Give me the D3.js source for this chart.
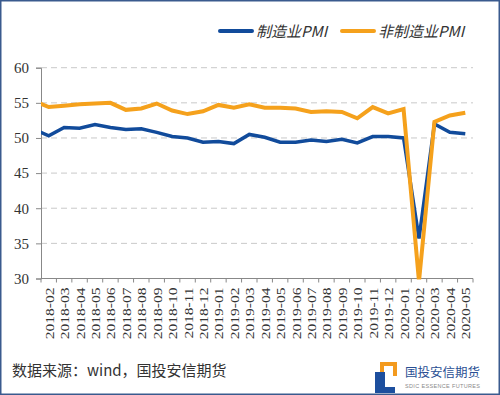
<!DOCTYPE html>
<html>
<head>
<meta charset="utf-8">
<script src="https://cdn.jsdelivr.net/npm/d3@7"></script>
<style>
  html, body { margin: 0; padding: 0; background: #fff; }
  svg { display: block; }
</style>
</head>
<body>
<div id="chart"></div>
<script>
// months shown on the axis; 2018-01 sits just outside the plot and is clipped
const months = ["2018-02","2018-03","2018-04","2018-05","2018-06","2018-07","2018-08","2018-09","2018-10","2018-11","2018-12",
  "2019-01","2019-02","2019-03","2019-04","2019-05","2019-06","2019-07","2019-08","2019-09","2019-10","2019-11","2019-12",
  "2020-01","2020-02","2020-03","2020-04","2020-05"];
const leadMonth = "2018-01";
const mfgPMI = [51.3, 50.3, 51.5, 51.4, 51.9, 51.5, 51.2, 51.3, 50.8, 50.2, 50.0, 49.4,
  49.5, 49.2, 50.5, 50.1, 49.4, 49.4, 49.7, 49.5, 49.8, 49.3, 50.2, 50.2,
  50.0, 35.7, 52.0, 50.8, 50.6];
const nonMfgPMI = [55.3, 54.4, 54.6, 54.8, 54.9, 55.0, 54.0, 54.2, 54.9, 53.9, 53.4, 53.8,
  54.7, 54.3, 54.8, 54.3, 54.3, 54.2, 53.7, 53.8, 53.7, 52.8, 54.4, 53.5,
  54.1, 29.6, 52.3, 53.2, 53.6];
const yTicks = [30, 35, 40, 45, 50, 55, 60];
const seriesNames = ["制造业PMI", "非制造业PMI"];
const seriesColors = ["#114b9b", "#f5a11c"];

//--- layout ---//
const W = 500, H = 395;
const plot = { left: 41, right: 473, top: 67.7, bottom: 278.5 };
const serif = "'Liberation Serif','Times New Roman',serif";
const cjk = "'Noto Sans CJK SC','Noto Sans',sans-serif";

const allMonths = [leadMonth].concat(months);

const x = d3.scaleLinear().domain([-0.5, months.length - 0.5]).range([plot.left, plot.right]);
const y = d3.scaleLinear().domain([30, 60]).range([plot.bottom, plot.top]);

const svg = d3.select("#chart").append("svg").attr("width", W).attr("height", H);

// outer frame
svg.append("rect")
  .attr("x", 0.75).attr("y", 0.75).attr("width", W - 1.5).attr("height", H - 1.5)
  .attr("fill", "#fff").attr("stroke", "#3a5a8e").attr("stroke-width", 1.5);

svg.append("defs").append("clipPath").attr("id", "plotClip")
  .append("rect")
  .attr("x", plot.left).attr("y", plot.top - 5)
  .attr("width", plot.right - plot.left).attr("height", plot.bottom - plot.top + 6);

// gridlines
svg.append("g")
  .selectAll("line")
  .data(yTicks.filter(d => d > 30))
  .join("line")
  .attr("x1", plot.left).attr("x2", plot.right)
  .attr("y1", d => y(d)).attr("y2", d => y(d))
  .attr("stroke", "#c9c9c9").attr("stroke-width", 1)
  .attr("stroke-dasharray", "6,4");

// y axis
const yAxis = svg.append("g")
  .attr("transform", `translate(${plot.left},0)`)
  .call(d3.axisLeft(y).tickValues(yTicks).tickSize(5).tickPadding(7));
yAxis.select(".domain").attr("stroke", "#888");
yAxis.selectAll(".tick line").attr("stroke", "#888");
yAxis.selectAll("text")
  .attr("font-family", serif).attr("font-size", 15).attr("fill", "#333");

// x axis: ticks at category boundaries
const xAxisG = svg.append("g").attr("transform", `translate(0,${plot.bottom})`);
xAxisG.append("line")
  .attr("x1", plot.left).attr("x2", plot.right)
  .attr("stroke", "#888");
xAxisG.selectAll(".tk")
  .data(d3.range(months.length + 1))
  .join("line")
  .attr("class", "tk")
  .attr("x1", i => x(i - 0.5)).attr("x2", i => x(i - 0.5))
  .attr("y1", 0).attr("y2", 4)
  .attr("stroke", "#888");
xAxisG.selectAll("text")
  .data(months)
  .join("text")
  .attr("transform", (d, i) => `translate(${x(i) + 5},9) rotate(-90) scale(1,0.85)`)
  .attr("text-anchor", "end")
  .attr("font-family", serif).attr("font-size", 15.5).attr("fill", "#333")
  .text(d => d);

// lines
const line = d3.line()
  .x((d, i) => x(i - 1))
  .y(d => y(d));

svg.append("g").attr("clip-path", "url(#plotClip)")
  .selectAll("path")
  .data([mfgPMI, nonMfgPMI])
  .join("path")
  .attr("fill", "none")
  .attr("stroke", (d, i) => seriesColors[i])
  .attr("stroke-width", (d, i) => i === 0 ? 3.5 : 4)
  .attr("stroke-linejoin", "miter")
  .attr("d", line);

// legend
const legendX = [220, 342];
const legend = svg.append("g")
  .selectAll("g")
  .data(seriesNames)
  .join("g")
  .attr("transform", (d, i) => `translate(${legendX[i]},31)`);
legend.append("line")
  .attr("x1", 0).attr("x2", 32)
  .attr("stroke", (d, i) => seriesColors[i])
  .attr("stroke-width", 4).attr("stroke-linecap", "round");
legend.append("text")
  .attr("x", 36).attr("y", 5.5)
  .attr("font-family", cjk).attr("font-size", 15).attr("font-style", "italic")
  .attr("fill", "#333")
  .text(d => d);

// source note
svg.append("text")
  .attr("x", 12).attr("y", 376)
  .attr("font-family", cjk).attr("font-size", 15).attr("fill", "#333")
  .text("数据来源：wind，国投安信期货");

// logo
const logo = svg.append("g").attr("transform", "translate(375,362)");
logo.append("rect").attr("x", 5).attr("y", 0).attr("width", 17).attr("height", 14).attr("fill", "#f39a1e");
logo.append("rect").attr("x", 9).attr("y", 4).attr("width", 9).attr("height", 10).attr("fill", "#fff");
logo.append("rect").attr("x", 0).attr("y", 10).attr("width", 10).attr("height", 21).attr("fill", "#1d4f9e");
logo.append("rect").attr("x", 10).attr("y", 25).attr("width", 10).attr("height", 6).attr("fill", "#1d4f9e");
logo.append("text")
  .attr("x", 30).attr("y", 15)
  .attr("font-family", cjk).attr("font-size", 12.5).attr("fill", "#2a4f94")
  .text("国投安信期货");
logo.append("text")
  .attr("x", 30).attr("y", 25.5)
  .attr("font-family", "'Liberation Sans',sans-serif").attr("font-size", 5.5)
  .attr("fill", "#8a8a8a").attr("textLength", 75)
  .text("SDIC ESSENCE FUTURES");
</script>
</body>
</html>
